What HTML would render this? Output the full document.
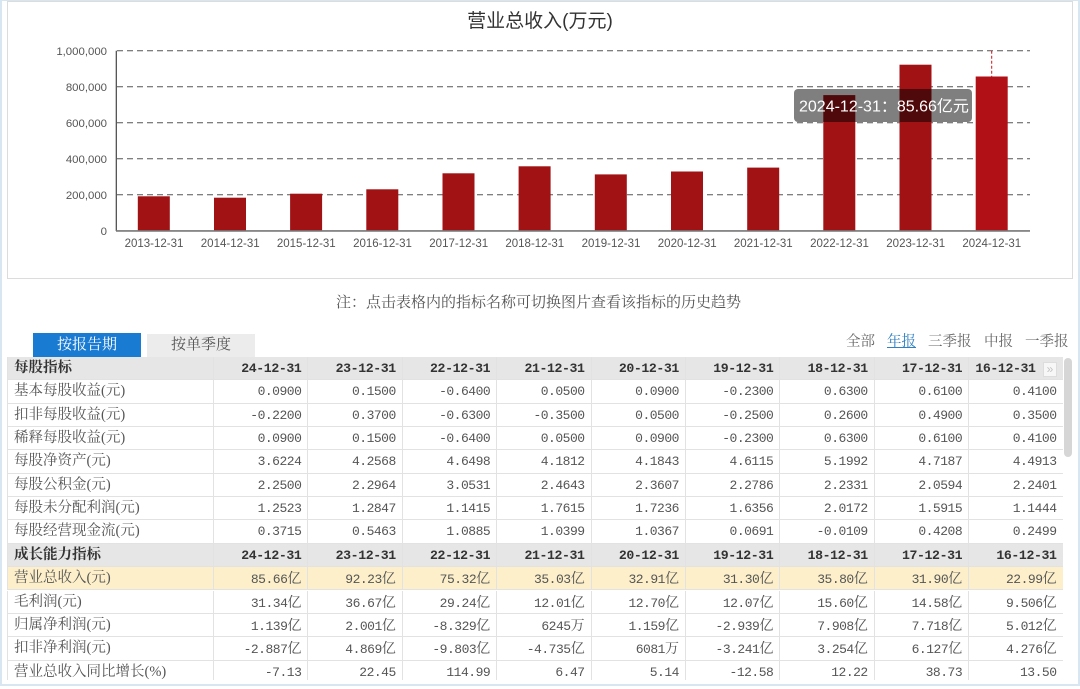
<!DOCTYPE html>
<html><head><meta charset="utf-8">
<style>
*{margin:0;padding:0;box-sizing:border-box}
html,body{width:1080px;height:689px;overflow:hidden;background:#fff}
body{position:relative;font-family:"Liberation Sans","Noto Sans CJK SC",sans-serif}
.frame{position:absolute;left:0;top:0;width:1080px;height:686px;border:2px solid #d8e6f1;border-top-width:1px}
.chartbox{position:absolute;left:7px;top:1px;width:1066px;height:278px;border:1px solid #dcdcdc;background:#fff}
svg{position:absolute;left:0;top:0}
.note{position:absolute;left:336px;top:292px;font:15px/22px "Liberation Serif","Noto Serif CJK SC",serif;color:#555;white-space:nowrap}
.tab{position:absolute;top:333px;height:24px;width:108px;text-align:center;font:15px/24px "Liberation Serif","Noto Serif CJK SC",serif;white-space:nowrap}
.t1{left:33px;background:#1a7bd3;color:#fff}
.t2{left:147px;top:334px;height:23px;line-height:23px;background:#ececec;color:#555}
.lk{position:absolute;top:331px;font:14.5px/22px "Liberation Serif","Noto Serif CJK SC",serif;color:#666;white-space:nowrap}
.lk.on{color:#2f7fc1;text-decoration:underline}
.tbl{position:absolute;left:7px;top:357px;width:1056px;height:323px;overflow:hidden}
.r{position:absolute;left:0;width:1056px;height:23.35px;display:grid;grid-template-columns:206px repeat(9,94.4px);border-bottom:1px solid #e2e2e2;border-left:1px solid #e2e2e2}
.r>div{border-right:1px solid #e2e2e2;text-align:right;padding-right:6px;font:13px/23px "Liberation Mono","Noto Serif CJK SC",monospace;letter-spacing:-0.5px;color:#555;white-space:nowrap;overflow:hidden}
.r>div:first-child{text-align:left;padding-left:6px;padding-right:0;font:14.5px/23px "Liberation Serif","Noto Serif CJK SC",serif;letter-spacing:0}
.h{background:#e6e6e6}
.h>div{font-weight:bold;color:#333;font-size:13.2px;letter-spacing:-0.4px}
.h>div:first-child{font-weight:bold;color:#333}
.y{background:#fcefca}
.u{font-family:"Noto Serif CJK SC",serif;font-size:14px;letter-spacing:0}
.sb{position:absolute;left:1064px;top:358px;width:8px;height:99px;border-radius:4px;background:#d6d6d6}
.ic{position:absolute;left:1043px;top:362px;width:14px;height:15px;border:1px solid #ddd;background:#f7f7f7;color:#c4c4c4;font:12px/13px "Liberation Sans",sans-serif;text-align:center}
</style></head><body>
<div class="frame"></div>
<div class="chartbox"></div>
<svg width="1080" height="280" viewBox="0 0 1080 280">
<text x="540" y="27" text-anchor="middle" font-family="Liberation Sans, Noto Sans CJK SC, sans-serif" font-size="19" fill="#333">营业总收入(万元)</text>
<g stroke="#555" stroke-width="1" stroke-dasharray="6 4">
<line x1="117" y1="50.7" x2="1030" y2="50.7"/>
<line x1="117" y1="86.7" x2="1030" y2="86.7"/>
<line x1="117" y1="122.7" x2="1030" y2="122.7"/>
<line x1="117" y1="158.7" x2="1030" y2="158.7"/>
<line x1="117" y1="194.7" x2="1030" y2="194.7"/>
</g>
<g font-family="Liberation Sans, sans-serif" font-size="11.4" fill="#555" text-anchor="end">
<text x="107" y="54.8">1,000,000</text>
<text x="107" y="90.8">800,000</text>
<text x="107" y="126.8">600,000</text>
<text x="107" y="162.8">400,000</text>
<text x="107" y="198.8">200,000</text>
<text x="107" y="234.8">0</text>
</g>
<g fill="#a11214">
<rect x="137.8" y="196.3" width="32" height="34.4"/>
<rect x="214" y="197.7" width="32" height="33"/>
<rect x="290.1" y="193.7" width="32" height="37"/>
<rect x="366.3" y="189.3" width="32" height="41.4"/>
<rect x="442.5" y="173.3" width="32" height="57.4"/>
<rect x="518.6" y="166.3" width="32" height="64.4"/>
<rect x="594.8" y="174.4" width="32" height="56.3"/>
<rect x="671" y="171.5" width="32" height="59.2"/>
<rect x="747.2" y="167.6" width="32" height="63.1"/>
<rect x="823.3" y="95.1" width="32" height="135.6"/>
<rect x="899.5" y="64.7" width="32" height="166"/>
</g>
<rect x="975.7" y="76.5" width="32" height="154.2" fill="#b11116"/>
<line x1="991.7" y1="50.7" x2="991.7" y2="76.5" stroke="#c8141a" stroke-width="1" stroke-dasharray="3 2"/>
<line x1="116.3" y1="50.7" x2="116.3" y2="231" stroke="#444" stroke-width="1.2"/>
<line x1="116" y1="230.9" x2="1030" y2="230.9" stroke="#777" stroke-width="1.6"/>
<g font-family="Liberation Sans, sans-serif" font-size="11.5" fill="#555" text-anchor="middle">
<text x="154" y="247">2013-12-31</text>
<text x="230.2" y="247">2014-12-31</text>
<text x="306.3" y="247">2015-12-31</text>
<text x="382.5" y="247">2016-12-31</text>
<text x="458.7" y="247">2017-12-31</text>
<text x="534.8" y="247">2018-12-31</text>
<text x="611" y="247">2019-12-31</text>
<text x="687.2" y="247">2020-12-31</text>
<text x="763.3" y="247">2021-12-31</text>
<text x="839.5" y="247">2022-12-31</text>
<text x="915.7" y="247">2023-12-31</text>
<text x="991.8" y="247">2024-12-31</text>
</g>
<rect x="794" y="89" width="178" height="33" rx="4" fill="rgba(0,0,0,0.5)"/>
<text x="799" y="111.5" font-family="Liberation Sans, Noto Sans CJK SC, sans-serif" font-size="16" fill="#fff">2024-12-31：85.66亿元</text>
</svg>

<div class="note">注：点击表格内的指标名称可切换图片查看该指标的历史趋势</div>

<div class="tab t1">按报告期</div>
<div class="tab t2">按单季度</div>
<div class="lk" style="left:846px">全部</div>
<div class="lk on" style="left:887px">年报</div>
<div class="lk" style="left:928px">三季报</div>
<div class="lk" style="left:984px">中报</div>
<div class="lk" style="left:1025px">一季报</div>

<div class="tbl">
<div class="r h" style="top:0px"><div>每股指标</div><div>24-12-31</div><div>23-12-31</div><div>22-12-31</div><div>21-12-31</div><div>20-12-31</div><div>19-12-31</div><div>18-12-31</div><div>17-12-31</div><div style="padding-right:27px">16-12-31</div></div>
<div class="r" style="top:23.35px"><div>基本每股收益(元)</div><div>0.0900</div><div>0.1500</div><div>-0.6400</div><div>0.0500</div><div>0.0900</div><div>-0.2300</div><div>0.6300</div><div>0.6100</div><div>0.4100</div></div>
<div class="r" style="top:46.7px"><div>扣非每股收益(元)</div><div>-0.2200</div><div>0.3700</div><div>-0.6300</div><div>-0.3500</div><div>0.0500</div><div>-0.2500</div><div>0.2600</div><div>0.4900</div><div>0.3500</div></div>
<div class="r" style="top:70.05px"><div>稀释每股收益(元)</div><div>0.0900</div><div>0.1500</div><div>-0.6400</div><div>0.0500</div><div>0.0900</div><div>-0.2300</div><div>0.6300</div><div>0.6100</div><div>0.4100</div></div>
<div class="r" style="top:93.4px"><div>每股净资产(元)</div><div>3.6224</div><div>4.2568</div><div>4.6498</div><div>4.1812</div><div>4.1843</div><div>4.6115</div><div>5.1992</div><div>4.7187</div><div>4.4913</div></div>
<div class="r" style="top:116.75px"><div>每股公积金(元)</div><div>2.2500</div><div>2.2964</div><div>3.0531</div><div>2.4643</div><div>2.3607</div><div>2.2786</div><div>2.2331</div><div>2.0594</div><div>2.2401</div></div>
<div class="r" style="top:140.1px"><div>每股未分配利润(元)</div><div>1.2523</div><div>1.2847</div><div>1.1415</div><div>1.7615</div><div>1.7236</div><div>1.6356</div><div>2.0172</div><div>1.5915</div><div>1.1444</div></div>
<div class="r" style="top:163.45px"><div>每股经营现金流(元)</div><div>0.3715</div><div>0.5463</div><div>1.0885</div><div>1.0399</div><div>1.0367</div><div>0.0691</div><div>-0.0109</div><div>0.4208</div><div>0.2499</div></div>
<div class="r h" style="top:186.8px"><div>成长能力指标</div><div>24-12-31</div><div>23-12-31</div><div>22-12-31</div><div>21-12-31</div><div>20-12-31</div><div>19-12-31</div><div>18-12-31</div><div>17-12-31</div><div>16-12-31</div></div>
<div class="r y" style="top:210.15px"><div>营业总收入(元)</div><div>85.66<span class="u">亿</span></div><div>92.23<span class="u">亿</span></div><div>75.32<span class="u">亿</span></div><div>35.03<span class="u">亿</span></div><div>32.91<span class="u">亿</span></div><div>31.30<span class="u">亿</span></div><div>35.80<span class="u">亿</span></div><div>31.90<span class="u">亿</span></div><div>22.99<span class="u">亿</span></div></div>
<div class="r" style="top:233.5px"><div>毛利润(元)</div><div>31.34<span class="u">亿</span></div><div>36.67<span class="u">亿</span></div><div>29.24<span class="u">亿</span></div><div>12.01<span class="u">亿</span></div><div>12.70<span class="u">亿</span></div><div>12.07<span class="u">亿</span></div><div>15.60<span class="u">亿</span></div><div>14.58<span class="u">亿</span></div><div>9.506<span class="u">亿</span></div></div>
<div class="r" style="top:256.85px"><div>归属净利润(元)</div><div>1.139<span class="u">亿</span></div><div>2.001<span class="u">亿</span></div><div>-8.329<span class="u">亿</span></div><div>6245<span class="u">万</span></div><div>1.159<span class="u">亿</span></div><div>-2.939<span class="u">亿</span></div><div>7.908<span class="u">亿</span></div><div>7.718<span class="u">亿</span></div><div>5.012<span class="u">亿</span></div></div>
<div class="r" style="top:280.2px"><div>扣非净利润(元)</div><div>-2.887<span class="u">亿</span></div><div>4.869<span class="u">亿</span></div><div>-9.803<span class="u">亿</span></div><div>-4.735<span class="u">亿</span></div><div>6081<span class="u">万</span></div><div>-3.241<span class="u">亿</span></div><div>3.254<span class="u">亿</span></div><div>6.127<span class="u">亿</span></div><div>4.276<span class="u">亿</span></div></div>
<div class="r" style="top:303.55px"><div>营业总收入同比增长(%)</div><div>-7.13</div><div>22.45</div><div>114.99</div><div>6.47</div><div>5.14</div><div>-12.58</div><div>12.22</div><div>38.73</div><div>13.50</div></div>
</div>
<div class="ic">»</div>
<div class="sb"></div>
</body></html>
